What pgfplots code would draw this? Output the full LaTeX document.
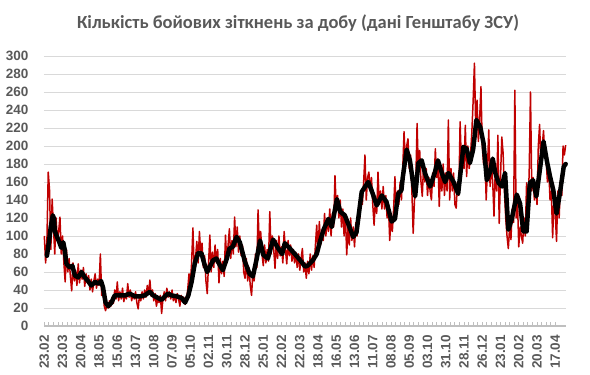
\documentclass[border=0pt]{standalone}
\usepackage{fontspec}
\setmainfont{Liberation Sans}
\newfontfamily\titlefont{Carlito}
\usepackage{pgfplots}
\usepackage{pgfplotstable}
\pgfplotsset{compat=1.18}
\definecolor{txt}{HTML}{595959}
\definecolor{grd}{HTML}{D9D9D9}
\definecolor{axl}{HTML}{BFBFBF}
\definecolor{redl}{HTML}{C00000}

\pgfplotstableread{
d v
0 100
2 70
4 95
6 171
8 151
10 85
12 141
14 110
16 80
18 120
20 95
22 105
24 121
26 80
28 100
30 70
32 49
34 85
36 60
38 75
40 55
42 39
44 70
46 50
48 62
50 45
52 69
54 48
56 62
58 52
60 65
62 44
64 58
66 48
68 56
70 40
72 52
74 38
76 50
78 58
80 42
82 52
84 45
86 80
88 34
90 40
92 22
94 17
96 24
98 20
100 28
102 22
104 32
106 25
108 40
110 30
112 49
114 28
116 38
118 30
120 42
122 27
124 36
126 30
128 47
130 32
132 40
134 28
136 36
138 30
140 38
142 26
144 19
146 34
148 28
150 38
152 30
154 40
156 32
158 45
160 36
162 51
164 33
166 40
168 28
170 36
172 22
174 30
176 26
178 34
180 14
182 30
184 38
186 28
188 42
190 32
192 38
194 30
196 40
198 28
200 34
202 26
204 36
206 30
208 22
210 34
212 27
214 32
216 24
218 28
220 40
222 58
224 45
226 70
228 109
230 62
232 75
234 94
236 70
238 105
240 80
242 92
244 65
246 78
248 50
250 36
252 70
254 101
256 60
258 82
260 65
262 90
264 70
266 85
268 48
270 75
272 58
274 72
276 55
278 101
280 70
282 90
284 108
286 75
288 95
290 80
292 121
294 88
296 110
298 82
300 100
302 78
304 90
306 60
308 53
310 75
312 50
314 65
316 45
318 34
320 60
322 50
324 80
326 65
328 129
330 85
332 105
334 80
336 67
338 90
340 70
342 85
344 72
346 127
348 80
350 100
352 85
354 64
356 95
358 75
360 100
362 78
364 88
366 70
368 105
370 85
372 69
374 95
376 78
378 90
380 72
382 85
384 70
386 82
388 65
390 80
392 62
394 75
396 86
398 60
400 70
402 53
404 72
406 58
408 80
410 62
412 78
414 65
416 90
418 112
420 80
422 116
424 90
426 105
428 95
430 125
432 100
434 120
436 105
438 130
440 100
442 125
444 110
446 167
448 130
450 145
452 120
454 140
456 110
458 130
460 100
462 125
464 79
466 110
468 90
470 120
472 95
474 110
476 88
478 115
480 100
482 130
484 120
486 150
488 135
490 160
492 190
494 140
496 165
498 171
500 150
502 165
504 135
506 112
508 140
510 125
512 171
514 135
516 150
518 130
520 155
522 130
524 145
526 120
528 135
530 95
532 120
534 105
536 130
538 166
540 120
542 150
544 135
546 160
548 140
550 175
552 216
554 180
556 200
558 208
560 175
562 190
564 150
566 103
568 140
570 160
572 225
574 170
576 195
578 160
580 144
582 180
584 160
586 175
588 145
590 165
592 150
594 140
596 170
598 155
600 197
602 165
604 185
606 133
608 175
610 150
612 180
614 145
616 170
618 150
620 229
622 140
624 175
626 150
628 170
630 135
632 131
634 160
636 145
638 227
640 180
642 200
644 175
646 223
648 166
650 200
652 175
654 190
656 215
658 250
660 292
662 220
664 251
666 205
668 230
670 266
672 200
674 180
676 195
678 140
680 175
682 218
684 155
686 180
688 160
690 122
692 175
694 150
696 212
698 114
700 165
702 210
704 192
706 150
708 120
710 100
712 86
714 110
716 96
718 130
720 115
722 262
724 120
726 140
728 88
730 110
732 100
734 92
736 120
738 100
740 159
742 130
744 170
746 260
748 150
750 165
752 140
754 155
756 135
758 200
760 224
762 180
764 200
766 217
768 190
770 185
772 160
774 175
776 140
778 150
780 98
782 140
784 125
786 94
788 150
790 120
792 160
794 145
796 200
798 190
800 201
}\redtab

\pgfplotstableread{
d v
4 78
7 93
10 111
13 123
15 119
16 106
19 100
23 93
26 87
29 93
31 86
34 69
39 65
43 67
47 56
52 54
57 60
62 54
67 50
72 45
78 49
83 47
87 50
90 43
94 26
98 22
103 26
108 34
116 34
124 34
131 36
139 33
147 33
154 34
162 38
167 34
175 31
180 29
185 33
190 36
195 34
203 33
211 31
216 26
221 34
226 49
231 70
236 81
241 81
246 68
250 60
254 66
259 73
264 75
269 68
274 62
280 75
284 86
289 88
295 99
300 93
308 71
315 58
320 55
326 75
331 95
336 79
343 75
351 96
359 86
365 80
369 92
377 86
388 77
395 71
400 66
404 67
412 73
418 80
423 94
429 108
436 119
441 110
449 141
454 127
461 123
466 114
474 99
479 104
487 149
497 160
502 151
510 134
518 145
525 138
533 116
538 119
543 147
548 151
550 165
556 196
561 184
566 158
569 144
574 181
579 184
584 170
592 155
599 170
604 184
610 170
615 160
620 170
628 160
635 147
643 199
648 197
653 181
658 196
663 229
669 221
674 203
679 162
684 171
688 186
692 170
697 159
702 155
707 170
712 107
717 118
725 146
730 136
735 105
740 105
745 159
750 162
755 144
761 177
766 205
771 184
776 166
781 151
786 125
791 147
797 177
800 180
}\blacktab

\begin{document}
\begin{tikzpicture}[x=1pt,y=1pt]
\path[use as bounding box] (0,0) rectangle (590,375);
\node[font=\titlefont\bfseries\fontsize{18.5}{20}\selectfont, text=txt] at (298,352) {Кількість бойових зіткнень за добу (дані Генштабу ЗСУ)};
\begin{axis}[
  at={(44pt,49pt)}, anchor=south west,
  scale only axis, width=522pt, height=270pt,
  xmin=-0.5, xmax=800.5, ymin=0, ymax=300,
  axis x line*=bottom, axis y line*=left,
  y axis line style={draw=none},
  x axis line style={draw=axl, line width=1.8pt},
  ytick={0,20,...,300},
  ytick style={draw=none},
  ymajorgrids, grid style={grd, line width=0.8pt},
  xtick={0,28,...,784},
  minor tick num=3,
  tick align=inside,
  xtick style={draw=axl, line width=0.8pt},
  major tick length=4pt, minor tick length=4pt,
  xticklabels={23.02,23.03,20.04,18.05,15.06,13.07,10.08,07.09,05.10,02.11,30.11,28.12,25.01,22.02,22.03,18.04,16.05,13.06,11.07,08.08,05.09,03.10,31.10,28.11,26.12,23.01,20.02,20.03,17.04},
  xticklabel style={rotate=90, anchor=east, inner sep=0pt, xshift=-9pt, font=\bfseries\fontsize{13.5}{15}\selectfont, text=txt},
  yticklabel style={anchor=east, inner sep=0pt, xshift=-15.5pt, font=\bfseries\fontsize{13.5}{15}\selectfont, text=txt},
  /pgf/number format/assume math mode=true,
  clip=false,
]
\addplot[redl, line width=1.5pt, line join=round] table[x=d, y=v] {\redtab};
\addplot[black, line width=4.5pt, line join=round, line cap=round] table[x=d, y=v] {\blacktab};
\end{axis}
\end{tikzpicture}
\end{document}
